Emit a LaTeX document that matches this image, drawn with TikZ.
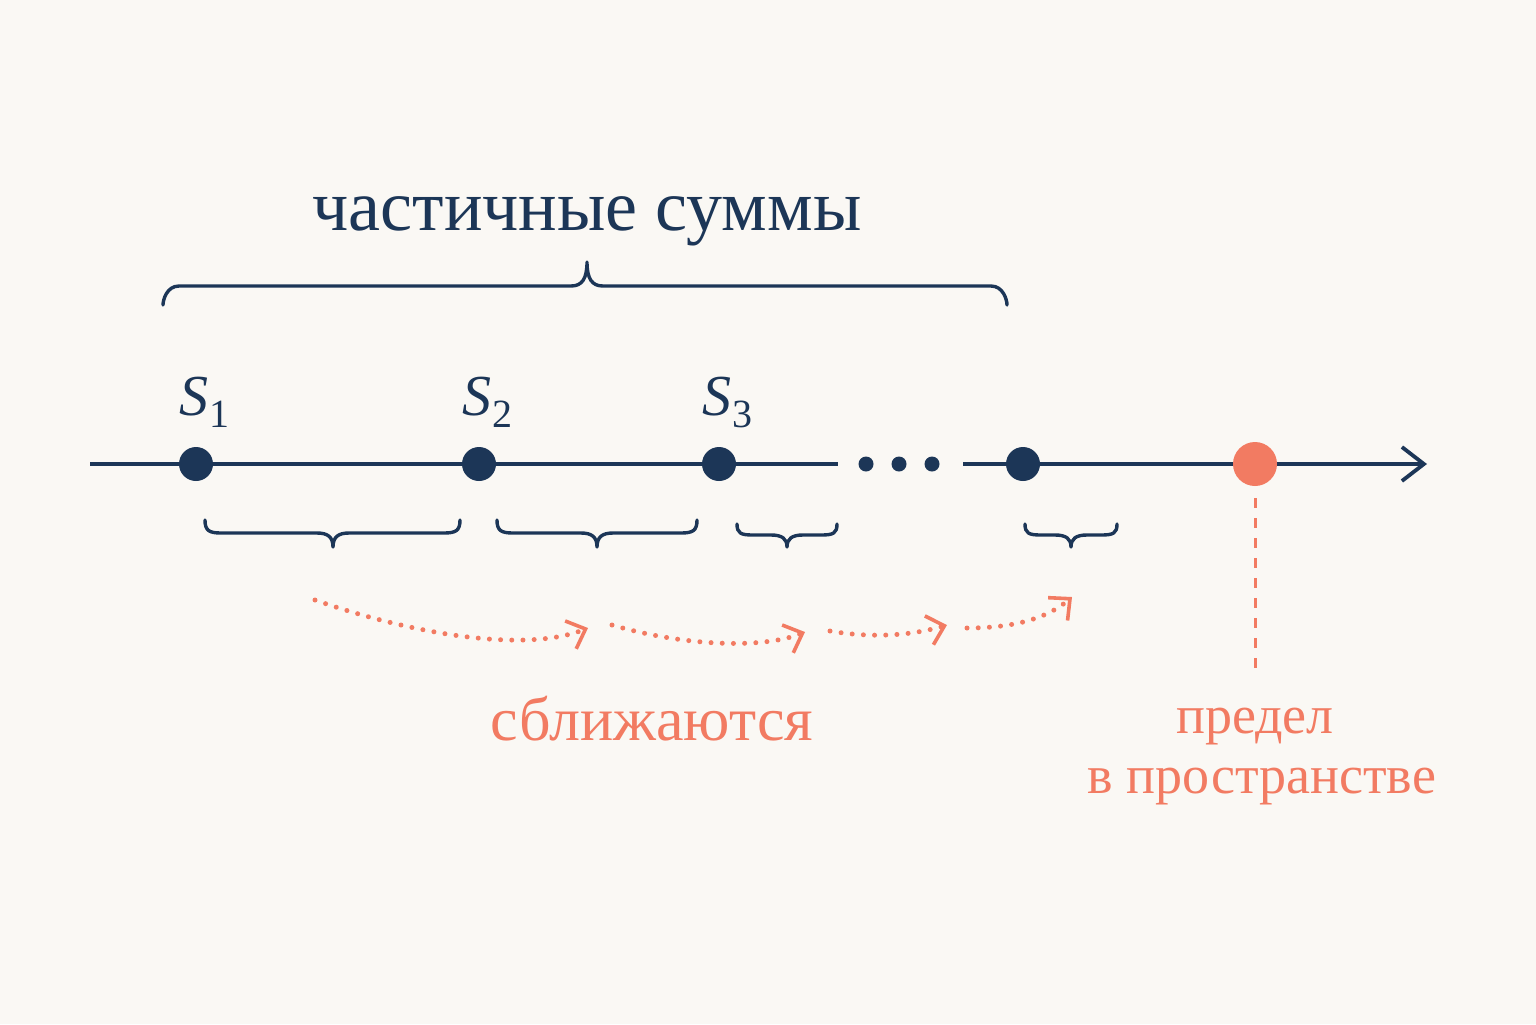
\documentclass[tikz,border=0pt]{standalone}
\usepackage{fontspec}
\setmainfont{Liberation Serif}
\usetikzlibrary{arrows.meta}
\definecolor{navy}{HTML}{1C3657}
\definecolor{coral}{HTML}{F27B62}
\definecolor{bgc}{HTML}{FAF8F4}
\newcommand\mybrace[6]{% x1, x2, xm, end y, line y, tip y
  \draw[bracestyle] (#1,#4) .. controls (#1,{(#4+#5)/2+4}) and ({#1+4},#5) .. ({#1+16},#5)
    -- ({#3-16},#5) .. controls ({#3-5},#5) and (#3,{#5+0.3*(#6-#5)}) .. (#3,#6)
    .. controls (#3,{#5+0.3*(#6-#5)}) and ({#3+5},#5) .. ({#3+16},#5)
    -- ({#2-16},#5) .. controls ({#2-4},#5) and (#2,{(#4+#5)/2+4}) .. (#2,#4);}
\tikzset{
  bracestyle/.style={navy, line width=1.7pt, line cap=round, line join=round},
  dotpt/.style={circle, fill=navy, inner sep=0pt, minimum size=17pt},
  smalldot/.style={circle, fill=navy, inner sep=0pt, minimum size=7.5pt},
  limpt/.style={circle, fill=coral, inner sep=0pt, minimum size=22pt},
  slabel/.style={text=navy, font=\fontsize{29}{29}\selectfont, inner sep=0pt},
  dotarc/.style={coral, line width=2.5pt, line cap=round, dash pattern=on 0pt off 5.6pt,
    -{Straight Barb[length=8pt, width=15pt, line width=1.8pt]}},
  axis/.style={navy, line width=1.9pt},
}
\begin{document}
\begin{tikzpicture}[x=0.5pt, y=-0.5pt]
\fill[bgc] (0,0) rectangle (1536,1024);
\useasboundingbox (0,0) rectangle (1536,1024);

% title
\node[text=navy, font=\fontsize{36}{36}\selectfont, anchor=base] (title) at (587,230) {частичные суммы};
\mybrace{163}{1007}{587}{305}{286}{262}

% axis
\coordinate (a0) at (90,464);
\coordinate (g1) at (838,464);
\coordinate (g2) at (963,464);
\coordinate (tip) at (1427,464);
\draw[axis] (a0) -- (g1);
\draw[axis, -{Straight Barb[length=11pt, width=17pt, line width=1.9pt]}] (g2) -- (tip);

\node[smalldot] (d1) at (866,464) {};
\node[smalldot] (d2) at (899,464) {};
\node[smalldot] (d3) at (932,464) {};

\node[dotpt] (s1) at (196,464) {};
\node[dotpt] (s2) at (479,464) {};
\node[dotpt] (s3) at (719,464) {};
\node[dotpt] (s4) at (1023,464) {};
\node[limpt] (lim) at (1255,464) {};

\node[slabel] (l1) at (204,402) {\textit{S}\kern0.5pt\raisebox{-6pt}{\fontsize{20}{20}\selectfont 1}};
\node[slabel] (l2) at (487,402) {\textit{S}\kern0.5pt\raisebox{-6pt}{\fontsize{20}{20}\selectfont 2}};
\node[slabel] (l3) at (727,402) {\textit{S}\kern0.5pt\raisebox{-6pt}{\fontsize{20}{20}\selectfont 3}};

% lower braces
\mybrace{205}{460}{333}{520}{533}{547}
\mybrace{497}{697}{597}{520}{533}{547}
\mybrace{737}{837}{787}{524}{535}{547}
\mybrace{1025}{1117}{1071}{524}{535}{547}

% dotted arrows
\coordinate (p0) at (315,600);
\coordinate (p1) at (588,628);
\coordinate (q0) at (612,625);
\coordinate (q1) at (805,632);
\coordinate (r0) at (830,631);
\coordinate (r1) at (947,625);
\coordinate (t0) at (967,628);
\coordinate (t1) at (1072,597);
\draw[dotarc] (p0) .. controls (400,630) and (520,655) .. (p1);
\draw[dotarc] (q0) .. controls (680,645) and (760,650) .. (q1);
\draw[dotarc] (r0) .. controls (870,638) and (910,636) .. (r1);
\draw[dotarc] (t0) .. controls (1010,628) and (1045,620) .. (t1);

\node[text=coral, font=\fontsize{31}{31}\selectfont, anchor=base] (close) at (652,740) {сближаются};

% limit
\coordinate (vl) at (1255,670);
\draw[coral, line width=1.5pt, dash pattern=on 5pt off 5pt] (lim.south) ++(0,-6pt) -- (vl);
\node[text=coral, font=\fontsize{27}{27}\selectfont, anchor=base] (lim1) at (1255,733) {предел};
\node[text=coral, font=\fontsize{27}{27}\selectfont, anchor=base] (lim2) at (1262,793) {в пространстве};
\end{tikzpicture}
\end{document}
